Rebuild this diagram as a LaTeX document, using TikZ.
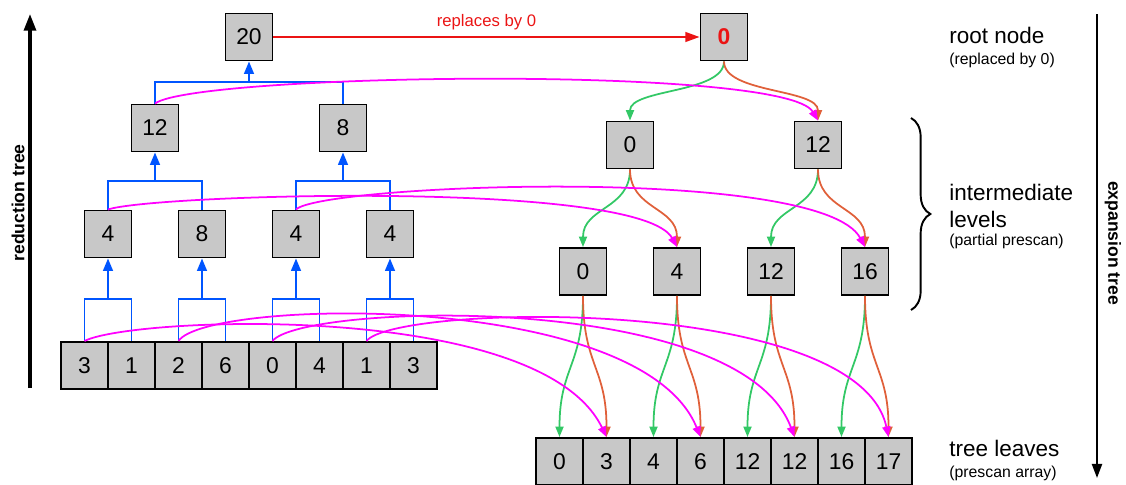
\documentclass[tikz,border=0pt]{standalone}
\usepackage{fontspec}
\setmainfont{Liberation Sans}
\usetikzlibrary{arrows.meta,decorations.pathreplacing}

\definecolor{boxgray}{RGB}{200,200,200}
\definecolor{upblue}{RGB}{0,85,255}
\definecolor{dngreen}{RGB}{51,200,102}
\definecolor{dnorange}{RGB}{224,96,58}
\definecolor{summag}{RGB}{255,0,255}
\definecolor{replred}{RGB}{235,20,20}

\tikzset{
  cell/.style={draw, line width=1.1pt, fill=boxgray, minimum size=0.94cm, inner sep=0pt,
    font=\fontsize{13}{15}\selectfont},
  rootval/.style={text=replred, font=\fontsize{13}{15}\selectfont\bfseries},
  upln/.style={upblue, line width=1.1pt},
  uparr/.style={upln, -{Triangle[length=7pt,width=5.5pt]}},
  leftdn/.style={dngreen, line width=1pt, -{Triangle[length=6pt,width=4.6pt]}},
  rightdn/.style={dnorange, line width=1pt, -{Triangle[length=6pt,width=4.6pt]}},
  sumln/.style={summag, line width=1pt, -{Triangle[length=6pt,width=4.6pt]}},
  replarr/.style={replred, line width=1.1pt, -{Triangle[length=8pt,width=5.5pt]}},
  replbl/.style={text=replred, font=\fontsize{9.5}{11}\selectfont},
  sidelbl/.style={font=\fontsize{10}{12}\selectfont\bfseries},
  lvlbl/.style={anchor=base west, inner sep=0pt, font=\fontsize{12.8}{15}\selectfont},
  sublbl/.style={anchor=base west, inner sep=0pt, font=\fontsize{9}{11}\selectfont},
}

\begin{document}
\begin{tikzpicture}[x=0.02cm,y=-0.02cm]
  \useasboundingbox (0,0) rectangle (1126,484);

  % reduction tree
  \foreach \v [count=\i] in {3,1,2,6,0,4,1,3}
    \node[cell] (a\i) at ({37.5+47*\i},365.5) {\v};
  \foreach \v [count=\i] in {4,8,4,4}
    \node[cell] (b\i) at ({14+94*\i},234) {\v};
  \node[cell] (c1) at (155,128) {12};
  \node[cell] (c2) at (343,128) {8};
  \node[cell] (r) at (249,37) {20};

  \foreach \i [evaluate=\i as \j using int(2*\i-1), evaluate=\i as \k using int(2*\i)] in {1,...,4} {
    \coordinate (jb\i) at (b\i.south |- 0,299);
    \draw[upln] (a\j.north) |- (jb\i) -| (a\k.north);
    \draw[uparr] (jb\i) -- (b\i.south);
  }
  \foreach \i [evaluate=\i as \j using int(2*\i-1), evaluate=\i as \k using int(2*\i)] in {1,2} {
    \coordinate (jc\i) at (c\i.south |- 0,181);
    \draw[upln] (b\j.north) |- (jc\i) -| (b\k.north);
    \draw[uparr] (jc\i) -- (c\i.south);
  }
  \coordinate (jr) at (r.south |- 0,82);
  \draw[upln] (c1.north) |- (jr) -| (c2.north);
  \draw[uparr] (jr) -- (r.south);

  % expansion tree
  \node[cell, rootval] (s) at (724,37) {0};
  \node[cell] (t1) at (630,145) {0};
  \node[cell] (t2) at (818,145) {12};
  \foreach \v [count=\i] in {0,4,12,16}
    \node[cell] (u\i) at ({489+94*\i},271.5) {\v};
  \foreach \v [count=\i] in {0,3,4,6,12,12,16,17}
    \node[cell] (v\i) at ({512.5+47*\i},461.5) {\v};

  \draw[leftdn] (s.south) .. controls +(0,32) and +(0,-32) .. (t1.north);
  \draw[rightdn] (s.south) .. controls +(0,32) and +(0,-32) .. (t2.north);
  \foreach \i [evaluate=\i as \j using int(2*\i-1), evaluate=\i as \k using int(2*\i)] in {1,2} {
    \draw[leftdn] (t\i.south) .. controls +(0,40) and +(0,-40) .. (u\j.north);
    \draw[rightdn] (t\i.south) .. controls +(0,40) and +(0,-40) .. (u\k.north);
  }
  \foreach \i [evaluate=\i as \j using int(2*\i-1), evaluate=\i as \k using int(2*\i)] in {1,...,4} {
    \draw[leftdn] (u\i.south) .. controls +(0,70) and +(0,-70) .. (v\j.north);
    \draw[rightdn] (u\i.south) .. controls +(0,70) and +(0,-70) .. (v\k.north);
  }

  % left sums moved across
  \draw[sumln] (c1.north) .. controls +(40,-30) and +(-33,-56) .. (t2.north);
  \draw[sumln] (b1.north) .. controls +(42,-15) and +(-37,-68) .. (u2.north);
  \draw[sumln] (b3.north) .. controls +(24,-25) and +(-44,-83) .. (u4.north);
  \draw[sumln] (a1.north) .. controls +(45,-24) and +(-66,-138) .. (v2.north);
  \draw[sumln] (a3.north) .. controls +(27,-42) and +(-60,-148) .. (v4.north);
  \draw[sumln] (a5.north) .. controls +(28,-37) and +(-55,-148) .. (v6.north);
  \draw[sumln] (a7.north) .. controls +(28,-37) and +(-30,-143) .. (v8.north);

  \draw[replarr] (r.east) -- node[replbl, above] (repl) {replaces by 0} (s.west);

  % side arrows and labels
  \coordinate (redbot) at (30,388);
  \coordinate (redtop) at (30,14);
  \draw[line width=1.9pt, -{Triangle[length=9.5pt,width=6.8pt]}] (redbot) -- (redtop);
  \node[sidelbl, rotate=90] (redlbl) at (18,203) {reduction tree};

  \coordinate (exptop) at (1097,14);
  \coordinate (expbot) at (1097,478);
  \draw[line width=1.2pt, -{Triangle[length=8pt,width=5.7pt]}] (exptop) -- (expbot);
  \node[sidelbl, rotate=-90] (explbl) at (1113,243) {expansion tree};

  \coordinate (brtop) at (911,118);
  \coordinate (brbot) at (911,310);
  \draw[line width=1.1pt, decorate, decoration={brace, amplitude=11pt}] (brtop) -- (brbot);

  \node[lvlbl] (rootlbl) at (949,43) {root node};
  \node[sublbl] (rootsub) at (949,64) {(replaced by 0)};
  \node[lvlbl] (midlbl) at (949,200) {intermediate};
  \node[lvlbl] (midlbl2) at (949,227) {levels};
  \node[sublbl] (midsub) at (949,245) {(partial prescan)};
  \node[lvlbl] (leaflbl) at (949,456) {tree leaves};
  \node[sublbl] (leafsub) at (949,477) {(prescan array)};
\end{tikzpicture}
\end{document}
